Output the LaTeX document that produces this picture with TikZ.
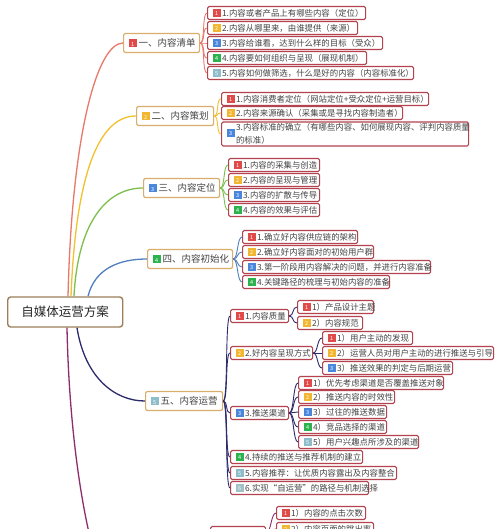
\documentclass[tikz,border=0pt]{standalone}
\usepackage{fontspec}
\newfontfamily\cjk{Noto Sans CJK SC}
\definecolor{cA}{HTML}{E8786A}
\definecolor{cB}{HTML}{F2C12E}
\definecolor{cC}{HTML}{7DBE4C}
\definecolor{cD}{HTML}{4F7FBF}
\definecolor{cE}{HTML}{2D2B6B}
\definecolor{cF}{HTML}{8E2C6C}
\definecolor{brd}{HTML}{D9AE6A}
\definecolor{rootbrd}{HTML}{9C7E58}
\definecolor{leafbrd}{HTML}{B5424F}
\definecolor{txt}{HTML}{444444}
\definecolor{k1}{HTML}{E04A48}
\definecolor{k2}{HTML}{F2B630}
\definecolor{k3}{HTML}{4A86DC}
\definecolor{k4}{HTML}{2DB34E}
\definecolor{k5}{HTML}{8DBCCB}
\definecolor{k6}{HTML}{9EC2C6}
\newcommand\badge[2]{\raisebox{-0.9pt}{\textcolor{#1}{\rule{8pt}{8pt}}\llap{\makebox[8pt]{\raisebox{1.2pt}{\color{white}\fontsize{5.5}{5.5}\selectfont #2}}}}}
\newcommand\lf[7]{\node[leaf,minimum width=#4pt] (#1) at (#2,#3) {\makebox[\dimexpr#4pt-10pt\relax][l]{\badge{#5}{#6}\hspace{1.5pt}#7}};}
\newcommand\br[7]{\node[branch,minimum width=#4pt] (#1) at (#2,#3) {\makebox[\dimexpr#4pt-10pt\relax][l]{\badge{#5}{#6}\hspace{2pt}#7}};}
\tikzset{
  leaf/.style={draw=leafbrd, line width=1.1pt, rounded corners=1.5pt, fill=white, anchor=west,
    inner xsep=0pt, inner ysep=0pt, minimum height=13pt, text=txt, font=\cjk\fontsize{8.4}{10}\selectfont},
  branch/.style={draw=brd, line width=1.2pt, rounded corners=2pt, fill=white, anchor=west,
    inner xsep=0pt, inner ysep=0pt, minimum height=19pt, text=txt, font=\cjk\fontsize{9.5}{11}\selectfont},
  rootbox/.style={draw=rootbrd, line width=1.4pt, rounded corners=3pt, fill=white, anchor=west,
    inner sep=0pt, minimum width=115pt, minimum height=30pt, text=black!85, font=\cjk\fontsize{12.5}{14}\selectfont},
  main/.style={line width=1.3pt},
  sub/.style={line width=0.9pt},
}
\newcommand\cn[3]{\draw[sub,#1] (#2.east) .. controls +(5,0) and +(-5,0) .. (#3.west);}
\begin{document}
\begin{tikzpicture}[x=1pt,y=-1pt]
\path[use as bounding box] (0,0) rectangle (500,529);
\clip (0,0) rectangle (500,529);
\fill[white] (0,0) rectangle (500,529);

% root
\node[rootbox] (root) at (7,312) {自媒体运营方案};

% branches
\br{B1}{123}{43}{76}{k1}{1}{一、内容清单}
\br{B2}{136}{116}{77}{k2}{2}{二、内容策划}
\br{B3}{143}{188}{76}{k3}{3}{三、内容定位}
\br{B4}{147}{259}{85}{k4}{4}{四、内容初始化}
\br{B5}{145}{401}{77}{k5}{5}{五、内容运营}
\coordinate (B6) at (150,640);
\coordinate (B6e) at (200,640);

% root connectors
\draw[main,cA] ([xshift=61pt]root.north west) .. controls (72,130) and (98,43) .. (B1.west);
\draw[main,cB] ([xshift=64pt]root.north west) .. controls (76,170) and (100,116) .. (B2.west);
\draw[main,cC] ([xshift=67pt]root.north west) .. controls (78,220) and (108,188) .. (B3.west);
\draw[main,cD] ([xshift=81pt]root.north west) .. controls (95,268) and (120,259) .. (B4.west);
\draw[main,cE] ([xshift=70pt]root.south west) .. controls (85,378) and (115,401) .. (B5.west);
\draw[main,cF] ([xshift=60pt]root.south west) .. controls (70,480) and (100,640) .. (B6);

% branch 1
\lf{a1}{207}{13}{158}{k1}{1}{1.内容或者产品上有哪些内容（定位）}
\lf{a2}{207}{28}{150}{k2}{2}{2.内容从哪里来，由谁提供（来源）}
\lf{a3}{207}{43}{175}{k3}{3}{3.内容给谁看，达到什么样的目标（受众）}
\lf{a4}{207}{58}{159}{k4}{4}{4.内容要如何组织与呈现（展现机制）}
\lf{a5}{207}{73}{206}{k5}{5}{5.内容如何做筛选，什么是好的内容（内容标准化）}
\foreach \n in {a1,a2,a3,a4,a5}{\cn{cA}{B1}{\n}}

% branch 2
\lf{b1}{221}{99}{207}{k1}{1}{1.内容消费者定位（网站定位+受众定位+运营目标）}
\lf{b2}{221}{113}{181}{k2}{2}{2.内容来源确认（采集或是寻找内容制造者）}
\node[leaf,minimum width=247pt,minimum height=24pt] (b3) at (221,134)
  {\makebox[237pt][l]{\badge{k3}{3}\hspace{1.5pt}\parbox[c]{226pt}{\baselineskip=12.5pt 3.内容标准的确立（有哪些内容、如何展现内容、评判内容质量\\的标准）}}};
\foreach \n in {b1,b2,b3}{\cn{cB}{B2}{\n}}

% branch 3
\lf{c1}{228}{165}{91}{k1}{1}{1.内容的采集与创造}
\lf{c2}{228}{180}{91}{k2}{2}{2.内容的呈现与管理}
\lf{c3}{228}{195}{91}{k3}{3}{3.内容的扩散与传导}
\lf{c4}{228}{210}{91}{k4}{4}{4.内容的效果与评估}
\foreach \n in {c1,c2,c3,c4}{\cn{cC}{B3}{\n}}

% branch 4
\lf{d1}{242}{237}{115}{k1}{1}{1.确立好内容供应链的架构}
\lf{d2}{242}{252}{131}{k2}{2}{2.确立好内容面对的初始用户群}
\lf{d3}{242}{267}{188}{k3}{3}{3.第一阶段用内容解决的问题，并进行内容准备}
\lf{d4}{242}{282}{147}{k4}{4}{4.关键路径的梳理与初始内容的准备}
\foreach \n in {d1,d2,d3,d4}{\cn{cD}{B4}{\n}}

% branch 5
\lf{e1}{230}{316}{58}{k1}{1}{1.内容质量}
\lf{e2}{230}{353}{82}{k2}{2}{2.好内容呈现方式}
\lf{e3}{230}{413}{58}{k3}{3}{3.推送渠道}
\lf{e4}{230}{457}{132}{k4}{4}{4.持续的推送与推荐机制的建立}
\lf{e5}{230}{473}{166}{k5}{5}{5.内容推荐：让优质内容露出及内容整合}
\lf{e6}{230}{488}{138}{k6}{6}{6.实现“自运营”的路径与机制选择}
\foreach \n in {e1,e2,e3,e4,e5,e6}{\cn{cE}{B5}{\n}}

\lf{f1}{297}{307}{76}{k1}{1}{1）产品设计主题}
\lf{f2}{297}{323}{65}{k2}{2}{2）内容规范}
\foreach \n in {f1,f2}{\cn{cE}{e1}{\n}}

\lf{g1}{322}{338}{90}{k1}{1}{1）用户主动的发现}
\lf{g2}{322}{353}{171}{k2}{2}{2）运营人员对用户主动的进行推送与引导}
\lf{g3}{322}{368}{130}{k3}{3}{3）推送效果的判定与后期运营}
\foreach \n in {g1,g2,g3}{\cn{cE}{e2}{\n}}

\lf{h1}{298}{383}{145}{k1}{1}{1）优先考虑渠道是否覆盖推送对象}
\lf{h2}{298}{397}{96}{k2}{2}{2）推送内容的时效性}
\lf{h3}{298}{412}{88}{k3}{3}{3）过往的推送数据}
\lf{h4}{298}{427}{88}{k4}{4}{4）竞品选择的渠道}
\lf{h5}{298}{442}{120}{k5}{5}{5）用户兴趣点所涉及的渠道}
\foreach \n in {h1,h2,h3,h4,h5}{\cn{cE}{e3}{\n}}

% branch 6 (partly visible)
\lf{j1}{210}{533}{55}{k1}{1}{1.展示数据}
\draw[sub,cF] (B6e) .. controls (206,640) and (203,533) .. (j1.west);
\lf{i1}{276}{513}{89}{k1}{1}{1）内容的点击次数}
\lf{i2}{276}{529}{97}{k2}{2}{2）内容页面的跳出率}
\foreach \n in {i1,i2}{\cn{cF}{j1}{\n}}
\end{tikzpicture}
\end{document}
